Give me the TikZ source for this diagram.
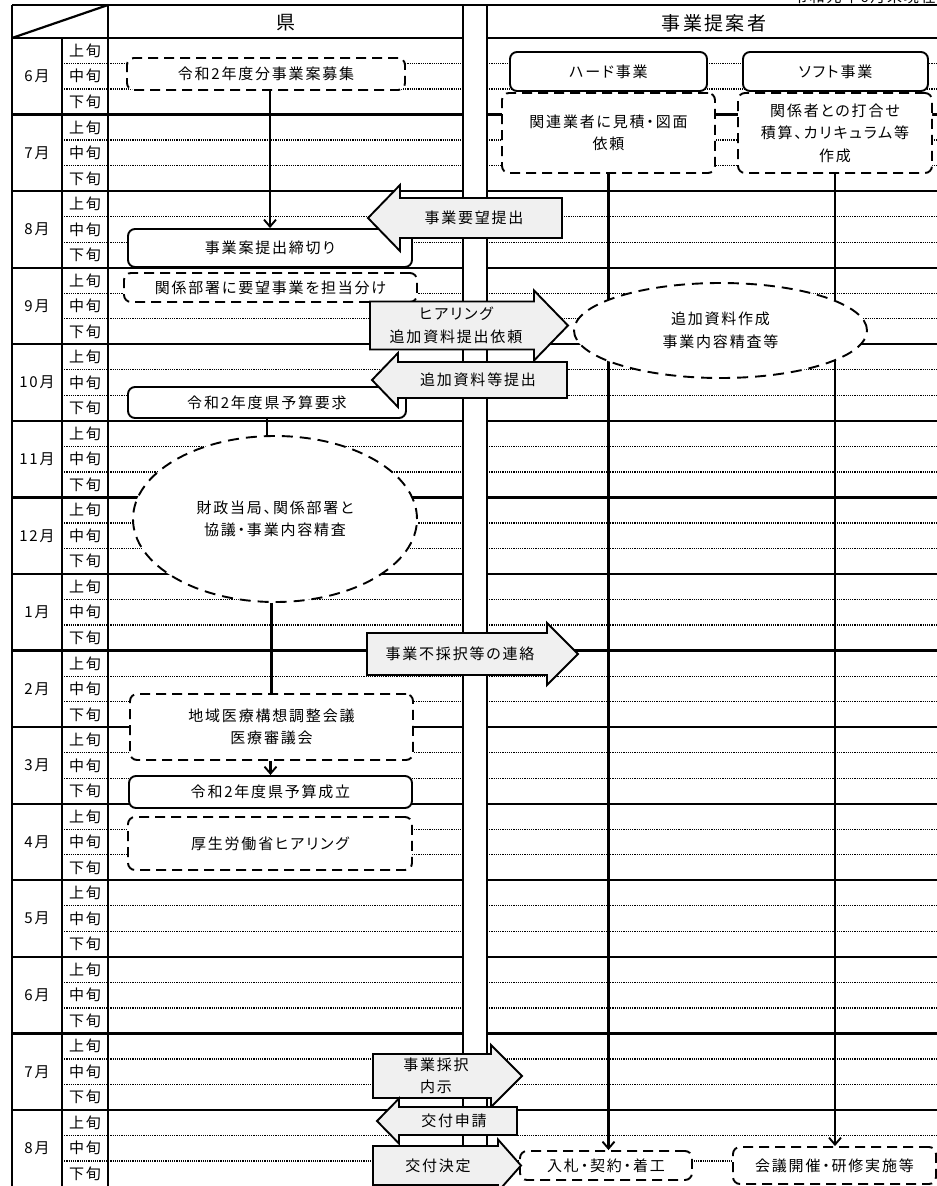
\documentclass[tikz,border=0pt]{standalone}
\usepackage{fontspec}
\setmainfont{Noto Sans CJK JP}[LetterSpace=12, RawFeature=+palt]
\usetikzlibrary{arrows.meta,shapes.geometric}

\pgfdeclarelayer{grid}
\pgfdeclarelayer{front}
\pgfsetlayers{grid,main,front}

\def\rowh{25.524}

\tikzset{
  txt/.style={font=\fontsize{15}{22.5}\selectfont, align=center, inner sep=0pt},
  head/.style={font=\fontsize{19}{22}\selectfont, inner sep=0pt},
  solidbox/.style={txt, draw, line width=1.9pt, rounded corners=7pt, fill=white},
  dashbox/.style={solidbox, dash pattern=on 10pt off 6pt},
  dashell/.style={txt, draw, ellipse, line width=1.9pt, dash pattern=on 11pt off 7pt, fill=white},
  blockarr/.style={draw, line width=1.9pt, fill=black!6, line join=miter},
  link/.style={line width=2.3pt},
  flow/.style={link, -{Straight Barb[length=7pt,width=12pt,line width=1.9pt]}},
  gridsolid/.style={line width=2.2pt},
  griddot/.style={line width=1.2pt, densely dotted},
}

% name, tail, base, tip, y, half body, half head, text x, text
\newcommand{\blockarrow}[9]{%
  \draw[blockarr] (#2,#5-#6) -- (#3,#5-#6) -- (#3,#5-#7) -- (#4,#5) -- (#3,#5+#7) -- (#3,#5+#6) -- (#2,#5+#6) -- cycle;
  \node[txt] (#1) at (#8,#5) {#9};
}

\begin{document}
\begin{tikzpicture}[x=1pt, y=-1pt]
\useasboundingbox (0,0) rectangle (937,1186);

\begin{pgfonlayer}{grid}
% table frame
\draw[gridsolid] (12,5) -- (940,5);
\draw[gridsolid] (12,38) -- (108,5);
\foreach \x in {12,108,463,487} \draw[gridsolid] (\x,5) -- (\x,1190);
\draw[gridsolid] (62,38) -- (62,1190);
\foreach \mi in {0,...,14} {
  \draw[gridsolid] (12,38+3*\mi*\rowh) -- (463,38+3*\mi*\rowh);
  \draw[gridsolid] (487,38+3*\mi*\rowh) -- (940,38+3*\mi*\rowh);
  \foreach \sj in {1,2} {
    \draw[griddot] (62,38+3*\mi*\rowh+\sj*\rowh) -- (463,38+3*\mi*\rowh+\sj*\rowh);
    \draw[griddot] (487,38+3*\mi*\rowh+\sj*\rowh) -- (940,38+3*\mi*\rowh+\sj*\rowh);
  }
}
\node[head] (pref) at (285.5,23) {県};
\node[head] (prop) at (714,23) {事業提案者};
\node[txt, anchor=south east] (asof) at (936,4) {令和元年6月末現在};
\foreach \m [count=\i from 0] in {6,7,8,9,10,11,12,1,2,3,4,5,6,7,8} {
  \node[txt] (mon\i) at (37,38+3*\i*\rowh+1.5*\rowh) {\m{}月};
  \foreach \s [count=\j from 0] in {上,中,下}
    \node[txt] (sub\i-\j) at (85,38+3*\i*\rowh+\j*\rowh+0.5*\rowh) {\s{}旬};
}
\end{pgfonlayer}

\begin{pgfonlayer}{front}
% 県
\node[dashbox, minimum width=278pt, minimum height=32pt] (boxa) at (266,74) {令和2年度分事業案募集};
\node[solidbox, minimum width=284pt, minimum height=38pt] (boxb) at (270,248) {事業案提出締切り};
\node[dashbox, minimum width=293pt, minimum height=29pt] (boxc) at (270.5,287.5) {関係部署に要望事業を担当分け};
\node[solidbox, minimum width=278pt, minimum height=31pt] (boxd) at (267,402.5) {令和2年度県予算要求};
\node[dashell, minimum width=284pt, minimum height=166pt] (elle) at (275,519) {財政当局、関係部署と\\協議・事業内容精査};
\node[dashbox, minimum width=283pt, minimum height=66pt] (boxf) at (271.5,727) {地域医療構想調整会議\\医療審議会};
\node[solidbox, minimum width=283pt, minimum height=32pt] (boxg) at (270.5,792) {令和2年度県予算成立};
\node[dashbox, minimum width=284pt, minimum height=53pt] (boxh) at (270,843.5) {厚生労働省ヒアリング};

% 事業提案者
\node[solidbox, minimum width=197pt, minimum height=39pt] (hard) at (608.5,71.5) {ハード事業};
\node[solidbox, minimum width=185pt, minimum height=39pt] (soft) at (835.5,71.5) {ソフト事業};
\node[dashbox, minimum width=213pt, minimum height=80pt] (hardreq) at (608.5,133) {関連業者に見積・図面\\依頼};
\node[dashbox, minimum width=194pt, minimum height=80pt] (softmeet) at (835,133) {関係者との打合せ\\積算、カリキュラム等\\作成};
\node[dashell, minimum width=293pt, minimum height=95pt] (ellr) at (720.5,330.5) {追加資料作成\\事業内容精査等};
\node[dashbox, minimum width=172pt, minimum height=29pt] (bid) at (606,1165.5) {入札・契約・着工};
\node[dashbox, minimum width=203pt, minimum height=37pt] (meet) at (834.5,1165.5) {会議開催・研修実施等};

% block arrows
\blockarrow{wish}{562}{400}{368}{218}{20}{33}{474}{事業要望提出}
\blockarrow{hear}{370}{534}{568}{325.5}{24}{35}{456}{ヒアリング\\追加資料提出依頼}
\blockarrow{addl}{567}{398}{372}{380}{18}{27}{478}{追加資料等提出}
\blockarrow{rejt}{367}{547}{578}{654}{21}{31}{460}{事業不採択等の連絡}
\blockarrow{adop}{373}{491}{522}{1076}{22}{31}{436}{事業採択\\内示}
\blockarrow{appl}{517}{399}{377}{1121}{14}{22.5}{454}{交付申請}
\blockarrow{dcsn}{373}{498}{521}{1165.5}{19.5}{26}{438}{交付決定}
\end{pgfonlayer}

\draw[flow] (boxb.north |- boxa.south) -- (boxb.north);
\draw[link] (boxd.south) -- (boxd.south |- elle.north);
\draw[link] (boxf.north |- elle.south) -- (boxf.north);
\draw[flow] (boxg.north |- boxf.south) -- (boxg.north);
\draw[flow] (hardreq.south) -- (hardreq.south |- bid.north);
\draw[flow] (softmeet.south) -- (softmeet.south |- meet.north);
\end{tikzpicture}
\end{document}
